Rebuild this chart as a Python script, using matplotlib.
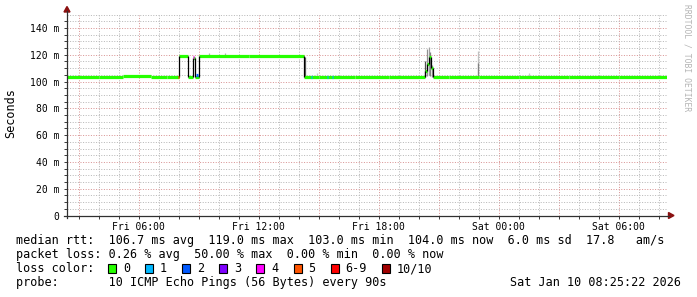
import matplotlib
matplotlib.use("Agg")
from matplotlib import pyplot as plt
from matplotlib.patches import Polygon, Rectangle
import numpy as np

# --- data (hours since Fri 00:00, values in ms) ---
t_start = 2.42   # Fri 02:25
t_end = 32.42    # Sat 08:25

# median rtt, step segments: segment i runs from med_t[i] to med_t[i+1]
med_t = [2.42, 4.0, 5.2, 6.6, 7.4, 8.0, 8.45, 8.72, 8.82, 9.0, 11.5,
         14.25, 15.0, 16.8, 18.5, 20.3, 20.4, 20.5, 20.6, 20.72, 21.5,
         23.0, 25.0, 27.5, 30.0, 32.42]
med_v = [103.6, 103.7, 103.8, 103.3, 103.5, 119.0, 103.3, 117.5, 103.4,
         119.0, 119.1, 103.3, 103.5, 103.6, 103.5, 108.0, 113.0, 118.5,
         110.0, 103.7, 103.6, 103.5, 103.6, 103.7, 103.6]

# short loss-coloured pieces of the median line
loss_t = [7.97, 8.72, 8.88, 14.6, 15.4, 15.65]
loss_v = [103.5, 118.0, 104.5, 103.2, 103.2, 103.2]
loss_n = [5, 4, 2, 1, 1, 1]

# smoke (spread of the pings)
smoke_t = [9.5, 10.3, 14.3, 14.9, 20.32, 20.42, 20.5, 20.58, 20.66, 22.95, 22.98, 25.5]
smoke_lo = [119.0, 119.0, 103.0, 103.0, 103.0, 104.0, 105.0, 104.0, 103.5, 103.5, 103.5, 103.5]
smoke_hi = [121.0, 121.5, 118.0, 106.0, 115.0, 124.0, 125.5, 122.0, 112.0, 123.0, 114.0, 106.0]
smoke_c = ["#b0b0b0", "#b0b0b0", "#606060", "#c8c8c8", "#505050", "#909090",
           "#a0a0a0", "#808080", "#909090", "#c0c0c0", "#808080", "#c8c8c8"]

xtick_pos = [6, 12, 18, 24, 30]
xtick_lab = ["Fri 06:00", "Fri 12:00", "Fri 18:00", "Sat 00:00", "Sat 06:00"]
ytick_pos = [0, 20, 40, 60, 80, 100, 120, 140]
ytick_lab = ["0", "20 m", "40 m", "60 m", "80 m", "100 m", "120 m", "140 m"]

loss_labels = ["0", "1", "2", "3", "4", "5", "6-9", "10/10"]
loss_colors = ["#26ff00", "#00b8ff", "#0059ff", "#7e00ff", "#ff00ff",
               "#ff5500", "#ff0000", "#a10000"]

rtt_line = "median rtt:  106.7 ms avg  119.0 ms max  103.0 ms min  104.0 ms now  6.0 ms sd  17.8   am/s"
loss_line = "packet loss: 0.26 % avg  50.00 % max  0.00 % min  0.00 % now"
probe_line = "probe:       10 ICMP Echo Pings (56 Bytes) every 90s"
stamp = "Sat Jan 10 08:25:22 2026"

# --- figure ---
W, H = 697, 297
plt.rcParams["font.family"] = ["DejaVu Sans Mono", "DejaVu Sans"]
fig = plt.figure(figsize=(W / 100, H / 100), dpi=100)
fig.patch.set_facecolor("white")

def px(x):
    return x / W

def py(y):
    return 1 - y / H

ax = fig.add_axes([px(67), py(215.5), 600 / W, 201 / H])
ax.set_xlim(t_start, t_end)
ax.set_ylim(0, 150)
for s in ax.spines.values():
    s.set_visible(False)

#Gridlines (dotted, rrdtool style)
dots = (0, (1, 1.6))
for h in np.arange(3, 33, 1):
    c = "#d99595" if h % 3 == 0 else "#b8b8b8"
    ax.axvline(h, color=c, lw=0.72, ls=dots, zorder=1)
for v in np.arange(5, 151, 5):
    c = "#d99595" if v % 20 == 0 else "#b8b8b8"
    ax.axhline(v, color=c, lw=0.72, ls=dots, zorder=1)

#Smoke
ax.vlines(smoke_t, smoke_lo, smoke_hi, colors=smoke_c, lw=0.9, zorder=2)

#Median line
for i in range(len(med_v)):
    ax.hlines(med_v[i], med_t[i], med_t[i + 1], color=loss_colors[0], lw=2.3, zorder=3)
    if i > 0 and abs(med_v[i] - med_v[i - 1]) > 2:
        ax.vlines(med_t[i], min(med_v[i], med_v[i - 1]), max(med_v[i], med_v[i - 1]),
                  color="black", lw=0.9, zorder=4)
for t, v, n in zip(loss_t, loss_v, loss_n):
    ax.hlines(v, t, t + 0.07, color=loss_colors[n], lw=2.3, zorder=5)

#Ticks and labels
ax.set_xticks(xtick_pos)
ax.set_xticklabels(xtick_lab, fontsize=7)
ax.set_xticks(np.arange(3, 33, 1), minor=True)
ax.set_yticks(ytick_pos)
ax.set_yticklabels(ytick_lab, fontsize=7)
ax.set_yticks(np.arange(0, 150, 5), minor=True)
ax.tick_params(which="both", direction="out", length=2.2, width=0.72, color="#404040")
ax.tick_params(axis="x", which="major", pad=2.5)
ax.tick_params(axis="y", which="major", pad=3.5)

#Axis lines with arrows
fig.add_artist(plt.Line2D([px(64), px(669)], [py(215.5), py(215.5)], color="#303030", lw=0.9))
fig.add_artist(plt.Line2D([px(67), px(67)], [py(218), py(11)], color="#303030", lw=0.9))
fig.add_artist(Polygon([(px(668.5), py(212.5)), (px(674), py(215.5)), (px(668.5), py(218.5))],
                       closed=True, color="#8b1010", transform=fig.transFigure))
fig.add_artist(Polygon([(px(64), py(12)), (px(67), py(6.5)), (px(70), py(12))],
                       closed=True, color="#8b1010", transform=fig.transFigure))

fig.text(px(11), py(113), "Seconds", rotation=90, ha="center", va="center", fontsize=8.5)
fig.text(px(686.5), py(4), "RRDTOOL / TOBI OETIKER", rotation=270, ha="center", va="top",
         fontsize=5.8, color="#b4b4b4")

#Legend
fs = 8.45
fig.text(px(16), py(240.5), rtt_line, ha="left", va="center", fontsize=fs)
fig.text(px(16), py(254.5), loss_line, ha="left", va="center", fontsize=fs)
fig.text(px(16), py(268.5), "loss color:", ha="left", va="center", fontsize=fs)
bx = 108
for lab, col in zip(loss_labels, loss_colors):
    fig.add_artist(Rectangle((px(bx), py(272.5)), 8 / W, 9 / H, facecolor=col,
                             edgecolor="black", lw=0.8, transform=fig.transFigure))
    fig.text(px(bx + 15), py(268.5), lab, ha="left", va="center", fontsize=fs)
    bx = bx + 15 + len(lab) * 7.1 + 15
fig.text(px(16), py(282.5), probe_line, ha="left", va="center", fontsize=fs)
fig.text(px(681), py(282.5), stamp, ha="right", va="center", fontsize=fs)

fig.savefig("out.png", dpi=100, facecolor="white")
